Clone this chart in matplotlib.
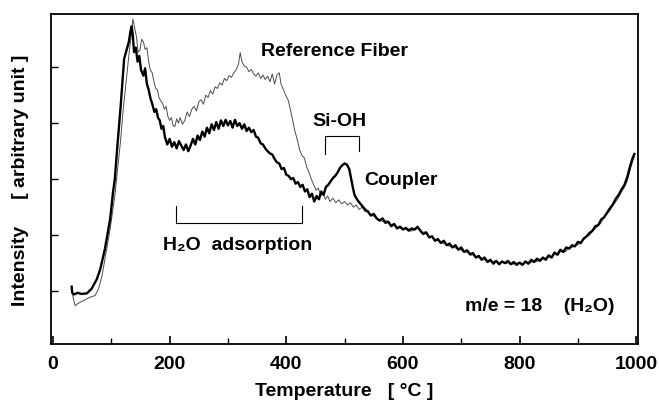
import numpy as np
import matplotlib.pyplot as plt

plt.rcParams['font.family'] = ['Liberation Sans', 'DejaVu Sans']
plt.rcParams['font.weight'] = 'bold'

# Coupler (thick line)
coupler_T = [32, 33, 36, 42, 49, 58, 66, 75, 81, 89, 98, 103, 106, 110, 116, 122, 126, 130, 133, 135,
             137, 139, 142, 145, 148, 151, 155, 158, 161, 164, 167, 170, 174, 177, 180, 183, 186, 189,
             192, 196, 200, 204, 208, 212, 216, 220, 224, 228, 232, 236, 240, 244, 248, 252, 256, 260,
             264, 268, 272, 276, 280, 284, 288, 292, 296, 300, 304, 308, 312, 316, 320, 324, 328, 332,
             336, 340, 344, 348, 352, 356, 360, 364, 368, 372, 376, 380, 384, 388, 392, 396, 400, 404,
             408, 412, 416, 420, 424, 428, 432, 436, 440, 444, 448, 452, 456, 460, 464, 468, 472, 476,
             480, 484, 488, 492, 496, 500, 504, 508, 511, 514, 517, 520, 524, 528, 532, 536, 540, 545,
             550, 555, 560, 565, 570, 575, 580, 585, 590, 595, 600, 605, 610, 615, 620, 625, 630, 635,
             640, 645, 650, 655, 660, 665, 670, 675, 680, 685, 690, 695, 700, 705, 710, 715, 720, 725,
             730, 735, 740, 745, 750, 755, 760, 765, 770, 775, 780, 785, 790, 795, 800, 805, 810, 815,
             820, 825, 830, 835, 840, 845, 850, 855, 860, 865, 870, 875, 880, 885, 890, 895, 900, 905,
             910, 915, 920, 925, 930, 935, 940, 945, 950, 955, 960, 965, 970, 975, 980, 985, 990, 994, 997]
coupler_I = [1.08, 0.97, 0.94, 0.97, 0.95, 0.96, 1.04, 1.21, 1.39, 1.75, 2.29, 2.77, 3.0, 3.54, 4.3, 5.15, 5.3, 5.45, 5.65, 5.73,
             5.55, 5.27, 5.35, 5.1, 5.2, 4.95, 4.85, 4.98, 4.7, 4.6, 4.45, 4.35, 4.2, 4.25, 4.1, 4.05, 3.9, 3.95,
             3.75, 3.62, 3.72, 3.58, 3.66, 3.55, 3.68, 3.6, 3.52, 3.62, 3.5, 3.6, 3.72, 3.62, 3.78, 3.7, 3.85, 3.76,
             3.92, 3.82, 3.98, 3.88, 4.02, 3.9, 4.05, 3.95, 4.06, 3.96, 4.04, 3.92, 4.06, 3.95, 4.0, 3.9, 3.98, 3.86,
             3.92, 3.84, 3.88, 3.76, 3.74, 3.64, 3.62, 3.55, 3.5, 3.46, 3.44, 3.36, 3.3, 3.28, 3.18, 3.2, 3.08, 3.06,
             3.0, 3.02, 2.92, 2.95, 2.86, 2.9, 2.78, 2.82, 2.68, 2.74, 2.6, 2.7, 2.64, 2.78, 2.72, 2.86, 2.9, 2.96,
             3.02, 3.06, 3.12, 3.2, 3.25, 3.28, 3.26, 3.18, 3.02, 2.86, 2.72, 2.66, 2.6, 2.55, 2.5, 2.45, 2.42, 2.35,
             2.38, 2.3, 2.26, 2.3, 2.22, 2.24, 2.16, 2.2, 2.12, 2.15, 2.1, 2.13, 2.08, 2.12, 2.1, 2.15, 2.08, 2.02,
             2.05, 1.96, 1.98, 1.9, 1.93, 1.86, 1.9, 1.82, 1.85, 1.78, 1.82, 1.74, 1.78, 1.7, 1.73, 1.66, 1.68, 1.6,
             1.63, 1.56, 1.6, 1.52, 1.56, 1.49, 1.54, 1.48, 1.53, 1.5, 1.54, 1.48, 1.52, 1.47, 1.51, 1.47, 1.53, 1.49,
             1.56, 1.52, 1.58, 1.54, 1.6, 1.56, 1.64, 1.6, 1.69, 1.65, 1.74, 1.7, 1.78, 1.76, 1.82, 1.8, 1.88, 1.86,
             1.94, 1.98, 2.04, 2.08, 2.16, 2.18, 2.28, 2.32, 2.4, 2.48, 2.55, 2.65, 2.72, 2.82, 2.9, 3.05, 3.25, 3.38, 3.45]

# Reference Fiber (thin line)
ref_T = [32, 35, 38, 43, 52, 63, 72, 78, 84, 89, 98, 106, 109, 112, 116, 120, 124, 128, 131, 134, 137, 140,
         143, 146, 149, 152, 155, 158, 161, 164, 167, 170, 173, 176, 179, 182, 185, 188, 191, 194, 197, 200,
         203, 206, 209, 212, 215, 218, 222, 226, 230, 234, 238, 242, 246, 250, 254, 258, 262, 266, 270, 274,
         278, 282, 286, 290, 294, 298, 302, 306, 310, 314, 318, 321, 324, 328, 332, 336, 340, 344, 348, 352,
         356, 360, 364, 368, 372, 376, 380, 384, 388, 391, 395, 399, 403, 407, 411, 415, 419, 423, 427, 431,
         435, 439, 443, 447, 451, 455, 459, 463, 467, 471, 475, 480, 485, 490, 495, 500, 505, 510, 515, 520,
         525, 530, 535, 540, 545, 550, 555, 560, 566, 572, 578, 584, 590, 596, 602, 608, 614, 620, 626, 632,
         638, 644, 650, 656, 662, 668, 674, 680, 686, 692, 698, 704, 710, 716, 722, 728, 734, 740, 746, 752,
         758, 764, 770, 776, 782, 788, 794, 800, 806, 812, 818, 824, 830, 836, 842, 848, 854, 860, 866, 872,
         878, 884, 890, 896, 902, 908, 914, 920, 926, 932, 938, 944, 950, 956, 962, 968, 974, 980, 985, 990, 994, 997]
ref_I = [1.04, 0.86, 0.74, 0.78, 0.83, 0.89, 0.92, 1.04, 1.27, 1.57, 2.11, 2.7, 3.0, 3.3, 3.7, 4.2, 4.6, 5.0, 5.3, 5.55, 5.86, 5.7,
         5.55, 5.27, 5.3, 5.5, 5.45, 5.32, 5.35, 5.1, 4.95, 4.9, 4.75, 4.62, 4.6, 4.45, 4.4, 4.35, 4.25, 4.3, 4.12, 4.05,
         4.1, 3.96, 3.94, 4.08, 4.0, 4.1, 3.98, 4.05, 4.2, 4.12, 4.25, 4.3, 4.22, 4.38, 4.42, 4.34, 4.5, 4.46, 4.58, 4.52,
         4.65, 4.62, 4.72, 4.68, 4.8, 4.76, 4.85, 4.82, 4.9, 4.95, 5.05, 5.26, 5.1, 5.02, 5.0, 4.92, 4.96, 4.88, 4.84, 4.9,
         4.8, 4.86, 4.78, 4.84, 4.74, 4.88, 4.7, 4.86, 4.9, 4.7, 4.6, 4.5, 4.42, 4.25, 4.05, 3.85, 3.7, 3.52, 3.42, 3.38,
         3.22, 3.12, 3.0, 2.9, 2.8, 2.84, 2.7, 2.76, 2.64, 2.7, 2.6, 2.66, 2.58, 2.63, 2.56, 2.6, 2.54, 2.58, 2.5, 2.54,
         2.46, 2.5, 2.42, 2.44, 2.36, 2.34, 2.3, 2.28, 2.24, 2.26, 2.18, 2.2, 2.14, 2.16, 2.1, 2.12, 2.07, 2.1, 2.12, 2.04,
         2.06, 1.98, 1.96, 1.92, 1.9, 1.86, 1.84, 1.8, 1.8, 1.76, 1.75, 1.7, 1.7, 1.64, 1.65, 1.6, 1.6, 1.56, 1.55, 1.52,
         1.54, 1.5, 1.52, 1.49, 1.51, 1.48, 1.5, 1.5, 1.49, 1.52, 1.5, 1.54, 1.53, 1.58, 1.57, 1.62, 1.6, 1.66, 1.66, 1.72,
         1.7, 1.76, 1.78, 1.82, 1.84, 1.9, 1.96, 2.0, 2.08, 2.14, 2.2, 2.3, 2.38, 2.46, 2.56, 2.64, 2.76, 2.86, 2.98, 3.18, 3.32, 3.4]

fig = plt.figure(figsize=(6.59, 4.06), dpi=100)
ax = fig.add_axes([0.0774, 0.150, 0.891, 0.813])

ax.plot(ref_T, ref_I, color='0.3', linewidth=0.7)
ax.plot(coupler_T, coupler_I, color='black', linewidth=1.7)

ax.set_xlim(-3.4, 1003.4)
ax.set_ylim(0.054, 5.95)

ax.set_xticks([0, 200, 400, 600, 800, 1000])
ax.set_xticks([100, 300, 500, 700, 900], minor=True)
ax.set_yticks([1, 2, 3, 4, 5])
ax.set_yticklabels([])
ax.tick_params(axis='x', which='major', direction='in', length=6, width=1.2,
               labelsize=14, pad=8)
ax.tick_params(axis='x', which='minor', direction='in', length=4, width=1.0)
ax.tick_params(axis='y', direction='in', length=5, width=1.0)
for lab in ax.get_xticklabels():
    lab.set_fontweight('bold')
for s in ax.spines.values():
    s.set_linewidth(1.3)

ax.set_xlabel('Temperature   [ \u00b0C ]', fontsize=14, fontweight='bold', labelpad=7)
ax.set_ylabel('Intensity     [ arbitrary unit ]', fontsize=14, fontweight='bold', labelpad=12)

# annotations
ax.text(356, 5.3, 'Reference Fiber', fontsize=14, fontweight='bold', va='center')
ax.text(444, 4.05, 'Si-OH', fontsize=14, fontweight='bold', va='center')
ax.plot([466, 466, 525, 525], [3.45, 3.77, 3.77, 3.5], color='black', linewidth=0.8)
ax.text(533, 3.0, 'Coupler', fontsize=14, fontweight='bold', va='center')
ax.plot([211, 211, 427, 427], [2.52, 2.21, 2.21, 2.52], color='black', linewidth=0.8)
ax.text(316, 1.84, 'H\u2082O  adsorption', fontsize=14, fontweight='bold', va='center', ha='center')
ax.text(707, 0.75, 'm/e = 18    (H\u2082O)', fontsize=14, fontweight='bold', va='center')

fig.savefig('out.png', dpi=100)
